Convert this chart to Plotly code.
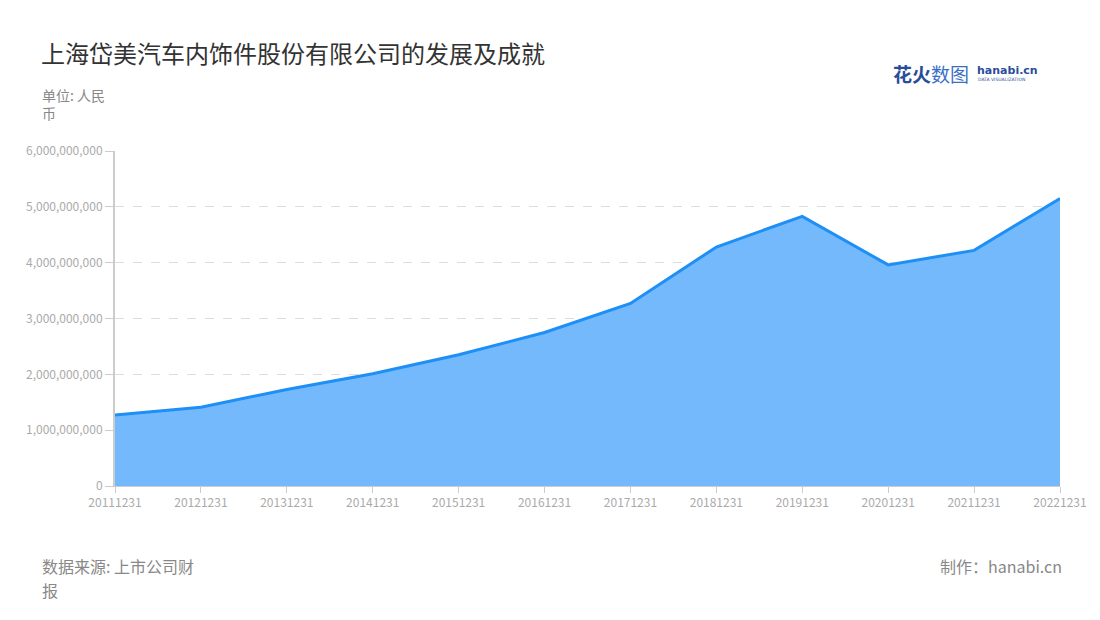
import plotly.graph_objects as go

dates = ["20111231", "20121231", "20131231", "20141231", "20151231", "20161231",
         "20171231", "20181231", "20191231", "20201231", "20211231", "20221231"]
revenue = [1.27e9, 1.41e9, 1.73e9, 2.01e9, 2.35e9, 2.75e9,
           3.27e9, 4.28e9, 4.83e9, 3.96e9, 4.22e9, 5.15e9]
y_ticks = [0, 1e9, 2e9, 3e9, 4e9, 5e9, 6e9]

title = "上海岱美汽车内饰件股份有限公司的发展及成就"
unit = "单位: 人民<br>币"
source_line1 = "数据来源: 上市公司财"
source_line2 = "报"
maker = "制作：hanabi.cn"

FONT = "Noto Sans CJK SC"
W, H = 1100, 620
OFF = 7
ML, MR, MT, MB = 114 - OFF, 41 + OFF, 150 - OFF, 135 + OFF

fig = go.Figure()
fig.add_trace(go.Scatter(
    x=dates, y=revenue, mode="lines", fill="tozeroy",
    line=dict(color="#1e8ff5", width=3),
    fillcolor="#74b9fc", hoverinfo="x+y",
))

fig.update_layout(
    width=W, height=H,
    margin=dict(l=ML, r=MR, t=MT, b=MB),
    paper_bgcolor="white", plot_bgcolor="white",
    showlegend=False,
    font=dict(family=FONT),
    xaxis=dict(
        type="category", range=[0, len(dates) - 1],
        showgrid=False, showline=True, linecolor="#cccccc", linewidth=1,
        ticks="outside", ticklen=6, tickcolor="#cccccc",
        tickfont=dict(size=12, color="#aaaaaa", family=FONT),
        zeroline=False,
    ),
    yaxis=dict(
        range=[0, 6e9], tickvals=y_ticks, tickformat=",",
        showgrid=True, gridcolor="#dddddd", griddash="dash", gridwidth=1,
        showline=True, linecolor="#cccccc", linewidth=2,
        ticks="outside", ticklen=8, tickcolor="#cccccc",
        tickfont=dict(size=12, color="#aaaaaa", family=FONT),
        zeroline=False,
    ),
)

annotations = [
    dict(text=title, x=38, y=52, xanchor="left", yanchor="middle",
         font=dict(size=24, color="#333333", family=FONT)),
    dict(text=unit, x=39, y=103, xanchor="left", yanchor="middle", align="left",
         font=dict(size=14, color="#888888", family=FONT)),
    dict(text=source_line1, x=40, y=565, xanchor="left", yanchor="middle", align="left",
         font=dict(size=16, color="#888888", family=FONT), borderpad=0),
    dict(text=source_line2, x=40, y=589, xanchor="left", yanchor="middle", align="left",
         font=dict(size=16, color="#888888", family=FONT), borderpad=0),
    dict(text=maker, x=1063, y=565, xanchor="right", yanchor="middle",
         font=dict(size=16, color="#888888", family=FONT)),
    dict(text="<b>花火</b><span style='color:#3b6fc4'>数图</span>", x=890, y=72,
         xanchor="left", yanchor="middle",
         font=dict(size=19, color="#2a4d9b", family=FONT)),
    dict(text="<b>hanabi.cn</b>", x=974, y=69, xanchor="left", yanchor="middle",
         font=dict(size=11, color="#2a4d9b", family="DejaVu Sans")),
    dict(text="DATA VISUALIZATION", x=975, y=79, xanchor="left", yanchor="middle",
         font=dict(size=4.5, color="#2a4d9b", family="DejaVu Sans")),
]
pw = W - ML - MR
ph = H - MT - MB
for a in annotations:
    a.update(xref="paper", yref="paper", showarrow=False)
    a["x"] = (a["x"] - OFF - ML) / pw
    a["y"] = 1 - (a["y"] - OFF - MT) / ph
fig.update_layout(annotations=annotations)

fig.write_html("out.html")
